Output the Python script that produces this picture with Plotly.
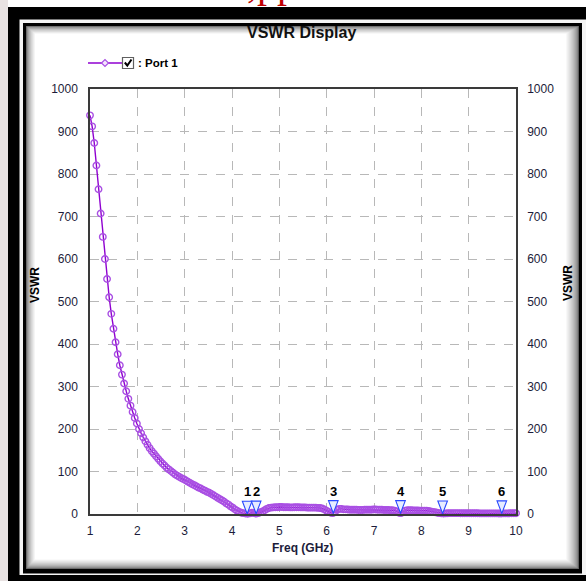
import numpy as np
import plotly.graph_objects as go

# ---------------- data ----------------
F_START, F_STOP, N_POINTS = 1.0, 10.0, 201
freq = np.linspace(F_START, F_STOP, N_POINTS)

vswr = [
    938, 912, 873, 820, 764, 707, 652, 600, 553, 510, 471, 436, 404, 376, 350, 328,
    307, 289, 271, 255, 240, 226, 213,
    200, 190, 180, 171, 163, 155, 148, 142, 136, 130, 124, 119, 114, 109, 105, 101,
    97, 93, 90, 87, 84, 82, 79, 76, 73, 70, 68, 65, 62, 60, 57, 55, 52, 50, 47, 44,
    41, 38, 35, 32, 29, 25, 22, 18,
    15, 11, 8, 5, 3, 2, 1, 0.5, 1.5, 3, 2, 0.8, 2, 4, 6, 9, 12, 14, 15, 15.5,
    16, 16, 16.5, 16.5, 16, 16, 16, 15.5, 15.5, 16, 16, 16, 15.5, 15.5, 15.5, 15,
    15, 15, 15, 15, 14.5, 14,
    13, 11, 8, 5, 3, 2, 5, 10, 12, 12,
    11, 11, 10.5, 10, 10, 10, 10, 9.5, 9.5, 9.5, 10, 10, 10, 10, 10.5, 10.5, 10, 10,
    10, 9.5, 9.5, 9.5, 9, 9,
    8, 6, 3, 2, 5, 8, 9,
    9, 9, 8.5, 8.5, 8.5, 8, 8, 8, 7.5, 7,
    6, 5, 4, 3, 2, 1.5, 1.2,
    1.5, 1.8, 2, 2, 2, 2, 2, 1.8, 1.8, 1.8, 1.7, 1.7, 1.7, 1.6, 1.6, 1.6, 1.5, 1.5,
    1.5, 1.5, 1.5, 1.5, 1.4, 1.4, 1.4, 1.3, 1.3, 1.4, 1.5, 1.5, 1.6, 1.6, 1.7, 1.7,
]

marker_labels = ["1", "2", "3", "4", "5", "6"]
marker_freq = [4.32, 4.51, 6.14, 7.56, 8.45, 9.70]
marker_vswr = [0.5, 0.8, 2.0, 2.0, 1.2, 1.5]

x_ticks = list(range(1, 11))
y_ticks = list(range(0, 1001, 100))

title_text = "VSWR Display"
legend_text = ": Port 1"
x_title = "Freq (GHz)"
y_title = "VSWR"

# ---------------- layout geometry (pixels) ----------------
W, H = 586, 581
L, R, T, B = 90, 70, 89, 67
PW, PH = W - L - R, H - T - B

def px(x):
    return (x - L) / PW

def py(y):
    return (H - B - y) / PH

FONT = "Liberation Sans, Arial, sans-serif"
TXT = "#1c1c3a"
PURPLE_LINE = "#8f00d0"
PURPLE_MARK = "#a94fe3"

fig = go.Figure()

fig.add_trace(go.Scatter(
    x=freq, y=vswr, mode="lines+markers",
    line=dict(color=PURPLE_LINE, width=1.4),
    marker=dict(symbol="circle-open", size=6.5, color=PURPLE_MARK, line=dict(width=1.4)),
    showlegend=False, hoverinfo="skip", cliponaxis=False,
))
# dummy trace for right axis
fig.add_trace(go.Scatter(x=[freq[0]], y=[vswr[0]], yaxis="y2", mode="markers",
                         marker=dict(opacity=0), showlegend=False, hoverinfo="skip"))

shapes = []

def rect(x0, y0, x1, y1, color, layer="below"):
    shapes.append(dict(type="rect", xref="paper", yref="paper",
                       x0=px(x0), x1=px(x1), y0=py(y1), y1=py(y0),
                       fillcolor=color, layer=layer,
                       line=dict(width=0, color=color)))

# background strip on the left
rect(0, 0, 8, H, "#e8e2e2")
# outer thick black frame
rect(8, 7, W + 20, H + 20, "#000000")
# thin white line
rect(19.5, 19.5, W + 20, 575, "#f4f4f4")
# thin black line
rect(23, 23, 582, 573.5, "#000000")
# inner panel with bevel shadow
n = 14
for k in range(n):
    t = k / (n - 1)
    g = int(95 + (255 - 95) * (t ** 0.55))
    col = f"rgb({g},{g},{g})"
    rect(26 + 0.7 * k, 26 + 0.6 * k, 579 - 1.0 * k, 569 - 0.75 * k, col)

# legend: line, diamond, checkbox
shapes.append(dict(type="line", xref="paper", yref="paper",
                   x0=px(88), x1=px(122), y0=py(63), y1=py(63),
                   line=dict(color=PURPLE_LINE, width=1.3), layer="above"))
shapes.append(dict(type="path", xref="paper", yref="paper",
                   path=f"M {px(101.5)} {py(63)} L {px(105)} {py(59.5)} L {px(108.5)} {py(63)} L {px(105)} {py(66.5)} Z",
                   fillcolor="#f4e6fb", line=dict(color=PURPLE_MARK, width=1.2), layer="above"))
shapes.append(dict(type="rect", xref="paper", yref="paper",
                   x0=px(122.5), x1=px(133.5), y0=py(68.5), y1=py(57.5),
                   fillcolor="#ffffff", line=dict(color="#606060", width=1.2), layer="above"))
shapes.append(dict(type="path", xref="paper", yref="paper",
                   path=f"M {px(124.8)} {py(62.5)} L {px(127.3)} {py(65.5)} L {px(131.5)} {py(59.5)}",
                   line=dict(color="#000000", width=2), layer="above"))

# marker triangles anchored on data
for f, v in zip(marker_freq, marker_vswr):
    shapes.append(dict(type="path", xref="x", yref="y",
                       xsizemode="pixel", ysizemode="pixel",
                       xanchor=f, yanchor=v,
                       path="M -4.8,12.5 L 4.8,12.5 L 0,0 Z",
                       fillcolor="#e6ecff", line=dict(color="#2848ff", width=1.1),
                       layer="above"))

annotations = []
for lab, f, v in zip(marker_labels, marker_freq, marker_vswr):
    annotations.append(dict(x=f, y=v, xref="x", yref="y", text=f"<b>{lab}</b>",
                            showarrow=False, yshift=22, xanchor="center", yanchor="middle",
                            font=dict(family=FONT, size=13, color="#000000")))

def ann(x, y, text, size, color, angle=0, xanchor="center", yanchor="middle", family=FONT):
    annotations.append(dict(x=px(x), y=py(y), xref="paper", yref="paper", text=text,
                            showarrow=False, xanchor=xanchor, yanchor=yanchor,
                            textangle=angle, font=dict(family=family, size=size, color=color)))

# partially visible red heading above the frame (cut off at top edge)
ann(272, 8, ",pp", 40, "#c00000", yanchor="bottom", family="Liberation Serif, serif")
ann(301, 33, f"<b>{title_text}</b>", 16, "#111111")
ann(136, 63.5, f"<b>{legend_text}</b>", 11.5, "#000000", xanchor="left")
ann(302, 548, f"<b>{x_title}</b>", 12, TXT)
ann(35, 285, f"<b>{y_title}</b>", 12, "#000000", angle=-90)
ann(568, 283, f"<b>{y_title}</b>", 12, "#000000", angle=-90)

axis_common = dict(
    showline=True, linecolor="#3a3a3a", linewidth=1.5,
    ticks="", tickfont=dict(family=FONT, size=12, color=TXT),
    zeroline=False,
)

fig.update_layout(
    width=W, height=H,
    margin=dict(l=L, r=R, t=T, b=B, pad=0),
    paper_bgcolor="#ffffff", plot_bgcolor="#ffffff",
    showlegend=False,
    xaxis=dict(range=[F_START, F_STOP], tickvals=x_ticks, mirror=True,
               showgrid=True, gridcolor="#b8b8b8", gridwidth=1, griddash="dash",
               ticklabelstandoff=5, **axis_common),
    yaxis=dict(range=[0, 1000], tickvals=y_ticks, mirror=True,
               showgrid=True, gridcolor="#b8b8b8", gridwidth=1, griddash="dash",
               ticklabelstandoff=8, **axis_common),
    yaxis2=dict(range=[0, 1000], tickvals=y_ticks, overlaying="y", side="right",
                showgrid=False, ticklabelstandoff=7, **axis_common),
    shapes=shapes,
    annotations=annotations,
)

fig.write_html("out.html")
